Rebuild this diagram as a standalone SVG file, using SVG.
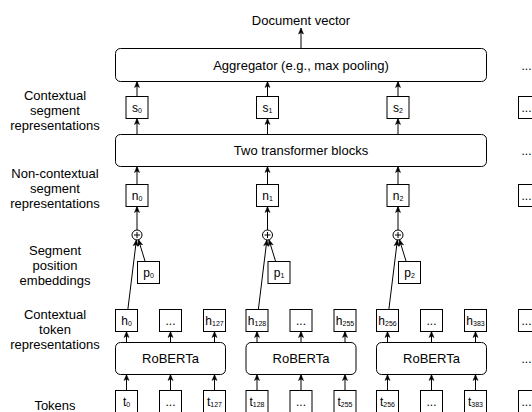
<svg xmlns="http://www.w3.org/2000/svg" width="532" height="412" viewBox="0 0 532 412">
<defs>
<style>
.box{fill:#fff;stroke:#000;stroke-width:1}
.t{font-family:"Liberation Sans",Arial,sans-serif;font-size:13px;text-anchor:middle;fill:#000}
.s{font-size:12px}
.sub{font-size:7px}
.e{stroke:#000;stroke-width:1;fill:none;marker-end:url(#arr)}
.pl{stroke:#000;stroke-width:1;fill:none}
</style>
<marker id="arr" markerUnits="userSpaceOnUse" markerWidth="7" markerHeight="6" refX="6" refY="3" orient="auto" overflow="visible">
<path d="M0,0.5 L6,3 L0,5.5 L1.5,3 z" fill="#000" stroke="#000" stroke-width="0.5"/>
</marker>
</defs>
<rect width="532" height="412" fill="#fff"/>

<g id="labels">
<text class="t" x="301" y="24.5">Document vector</text>
<text class="t" x="55" y="99.5">Contextual</text>
<text class="t" x="55" y="114.5">segment</text>
<text class="t" x="55" y="129.5">representations</text>
<text class="t" x="55" y="178">Non-contextual</text>
<text class="t" x="55" y="193">segment</text>
<text class="t" x="55" y="208">representations</text>
<text class="t" x="55" y="255">Segment</text>
<text class="t" x="55" y="270">position</text>
<text class="t" x="55" y="285">embeddings</text>
<text class="t" x="55" y="318.5">Contextual</text>
<text class="t" x="55" y="333.5">token</text>
<text class="t" x="55" y="348.5">representations</text>
<text class="t" x="55" y="409.5">Tokens</text>
</g>

<g id="aggregator"><rect class="box" x="115.5" y="48.5" width="371" height="33" rx="5"/><text class="t" x="301" y="69.5">Aggregator (e.g., max pooling)</text></g>
<g id="transformer"><rect class="box" x="115.5" y="134.5" width="371" height="32" rx="5"/><text class="t" x="301" y="155">Two transformer blocks</text></g>

<g id="s0"><rect class="box" x="126" y="96.5" width="22" height="22"/><text class="t s" x="137" y="111.5">s<tspan class="sub" dy="1">0</tspan></text></g>
<g id="s1"><rect class="box" x="256.5" y="96.5" width="22" height="22"/><text class="t s" x="267.5" y="111.5">s<tspan class="sub" dy="1">1</tspan></text></g>
<g id="s2"><rect class="box" x="387" y="96.5" width="22" height="22"/><text class="t s" x="398" y="111.5">s<tspan class="sub" dy="1">2</tspan></text></g>

<g id="n0"><rect class="box" x="126" y="184.5" width="22" height="22"/><text class="t s" x="137" y="199.5">n<tspan class="sub" dy="1">0</tspan></text></g>
<g id="n1"><rect class="box" x="256.5" y="184.5" width="22" height="22"/><text class="t s" x="267.5" y="199.5">n<tspan class="sub" dy="1">1</tspan></text></g>
<g id="n2"><rect class="box" x="387" y="184.5" width="22" height="22"/><text class="t s" x="398" y="199.5">n<tspan class="sub" dy="1">2</tspan></text></g>

<g id="plus0"><circle class="box" cx="137" cy="235" r="5"/><path class="pl" d="M134,235H140M137,232V238"/></g>
<g id="plus1"><circle class="box" cx="267.5" cy="235" r="5"/><path class="pl" d="M264.5,235H270.5M267.5,232V238"/></g>
<g id="plus2"><circle class="box" cx="398" cy="235" r="5"/><path class="pl" d="M395,235H401M398,232V238"/></g>

<g id="p0"><rect class="box" x="137.5" y="261.5" width="22" height="22"/><text class="t s" x="148.5" y="276.5">p<tspan class="sub" dy="1">0</tspan></text></g>
<g id="p1"><rect class="box" x="268" y="261.5" width="22" height="22"/><text class="t s" x="279" y="276.5">p<tspan class="sub" dy="1">1</tspan></text></g>
<g id="p2"><rect class="box" x="398.5" y="261.5" width="22" height="22"/><text class="t s" x="409.5" y="276.5">p<tspan class="sub" dy="1">2</tspan></text></g>

<g id="h0"><rect class="box" x="115.5" y="309.5" width="22" height="22"/><text class="t s" x="126.5" y="324.5">h<tspan class="sub" dy="1">0</tspan></text></g>
<g id="hd1"><rect class="box" x="159.5" y="309.5" width="22" height="22"/><text class="t s" x="170.5" y="324.5">...</text></g>
<g id="h127"><rect class="box" x="203.5" y="309.5" width="22" height="22"/><text class="t s" x="214.5" y="324.5">h<tspan class="sub" dy="1">127</tspan></text></g>
<g id="h128"><rect class="box" x="246" y="309.5" width="22" height="22"/><text class="t s" x="257" y="324.5">h<tspan class="sub" dy="1">128</tspan></text></g>
<g id="hd2"><rect class="box" x="290" y="309.5" width="22" height="22"/><text class="t s" x="301" y="324.5">...</text></g>
<g id="h255"><rect class="box" x="334" y="309.5" width="22" height="22"/><text class="t s" x="345" y="324.5">h<tspan class="sub" dy="1">255</tspan></text></g>
<g id="h256"><rect class="box" x="376.5" y="309.5" width="22" height="22"/><text class="t s" x="387.5" y="324.5">h<tspan class="sub" dy="1">256</tspan></text></g>
<g id="hd3"><rect class="box" x="420.5" y="309.5" width="22" height="22"/><text class="t s" x="431.5" y="324.5">...</text></g>
<g id="h383"><rect class="box" x="464.5" y="309.5" width="22" height="22"/><text class="t s" x="475.5" y="324.5">h<tspan class="sub" dy="1">383</tspan></text></g>

<g id="roberta1"><rect class="box" x="115.5" y="342.5" width="110" height="32" rx="5"/><text class="t" x="170.5" y="363">RoBERTa</text></g>
<g id="roberta2"><rect class="box" x="246" y="342.5" width="110" height="32" rx="5"/><text class="t" x="301" y="363">RoBERTa</text></g>
<g id="roberta3"><rect class="box" x="376.5" y="342.5" width="110" height="32" rx="5"/><text class="t" x="431.5" y="363">RoBERTa</text></g>

<g id="t0"><rect class="box" x="115.5" y="390.5" width="22" height="22"/><text class="t s" x="126.5" y="405.5">t<tspan class="sub" dy="1">0</tspan></text></g>
<g id="td1"><rect class="box" x="159.5" y="390.5" width="22" height="22"/><text class="t s" x="170.5" y="405.5">...</text></g>
<g id="t127"><rect class="box" x="203.5" y="390.5" width="22" height="22"/><text class="t s" x="214.5" y="405.5">t<tspan class="sub" dy="1">127</tspan></text></g>
<g id="t128"><rect class="box" x="246" y="390.5" width="22" height="22"/><text class="t s" x="257" y="405.5">t<tspan class="sub" dy="1">128</tspan></text></g>
<g id="td2"><rect class="box" x="290" y="390.5" width="22" height="22"/><text class="t s" x="301" y="405.5">...</text></g>
<g id="t255"><rect class="box" x="334" y="390.5" width="22" height="22"/><text class="t s" x="345" y="405.5">t<tspan class="sub" dy="1">255</tspan></text></g>
<g id="t256"><rect class="box" x="376.5" y="390.5" width="22" height="22"/><text class="t s" x="387.5" y="405.5">t<tspan class="sub" dy="1">256</tspan></text></g>
<g id="td3"><rect class="box" x="420.5" y="390.5" width="22" height="22"/><text class="t s" x="431.5" y="405.5">...</text></g>
<g id="t383"><rect class="box" x="464.5" y="390.5" width="22" height="22"/><text class="t s" x="475.5" y="405.5">t<tspan class="sub" dy="1">383</tspan></text></g>

<g id="more">
<text class="t s" x="526.5" y="69.5">...</text>
<rect class="box" x="518.5" y="96.5" width="22" height="22"/><text class="t s" x="526.5" y="111.5">...</text>
<text class="t s" x="526.5" y="155">...</text>
<rect class="box" x="518.5" y="184.5" width="22" height="22"/><text class="t s" x="526.5" y="199.5">...</text>
<rect class="box" x="518.5" y="309.5" width="22" height="22"/><text class="t s" x="526.5" y="324.5">...</text>
<text class="t s" x="526.5" y="363">...</text>
<rect class="box" x="518.5" y="390.5" width="22" height="22"/><text class="t s" x="526.5" y="405.5">...</text>
</g>

<g id="connectors">
<path class="e" d="M301,48.5V28"/>
<g id="col0">
<path class="e" d="M137,96.5V81.5"/>
<path class="e" d="M137,134.5V118.5"/>
<path class="e" d="M137,184.5V166.5"/>
<path class="e" d="M137,230V206.5"/>
<path class="e" d="M127.85,309.5L136.39,239.96"/>
<path class="e" d="M145.13,261.5L138.47,239.78"/>
<path class="e" d="M126.5,342.5V331.5"/><path class="e" d="M170.5,342.5V331.5"/><path class="e" d="M214.5,342.5V331.5"/>
<path class="e" d="M126.5,390.5V374.5"/><path class="e" d="M170.5,390.5V374.5"/><path class="e" d="M214.5,390.5V374.5"/>
</g>
<g id="col1" transform="translate(130.5,0)">
<path class="e" d="M137,96.5V81.5"/>
<path class="e" d="M137,134.5V118.5"/>
<path class="e" d="M137,184.5V166.5"/>
<path class="e" d="M137,230V206.5"/>
<path class="e" d="M127.85,309.5L136.39,239.96"/>
<path class="e" d="M145.13,261.5L138.47,239.78"/>
<path class="e" d="M126.5,342.5V331.5"/><path class="e" d="M170.5,342.5V331.5"/><path class="e" d="M214.5,342.5V331.5"/>
<path class="e" d="M126.5,390.5V374.5"/><path class="e" d="M170.5,390.5V374.5"/><path class="e" d="M214.5,390.5V374.5"/>
</g>
<g id="col2" transform="translate(261,0)">
<path class="e" d="M137,96.5V81.5"/>
<path class="e" d="M137,134.5V118.5"/>
<path class="e" d="M137,184.5V166.5"/>
<path class="e" d="M137,230V206.5"/>
<path class="e" d="M127.85,309.5L136.39,239.96"/>
<path class="e" d="M145.13,261.5L138.47,239.78"/>
<path class="e" d="M126.5,342.5V331.5"/><path class="e" d="M170.5,342.5V331.5"/><path class="e" d="M214.5,342.5V331.5"/>
<path class="e" d="M126.5,390.5V374.5"/><path class="e" d="M170.5,390.5V374.5"/><path class="e" d="M214.5,390.5V374.5"/>
</g>
</g>
</svg>
